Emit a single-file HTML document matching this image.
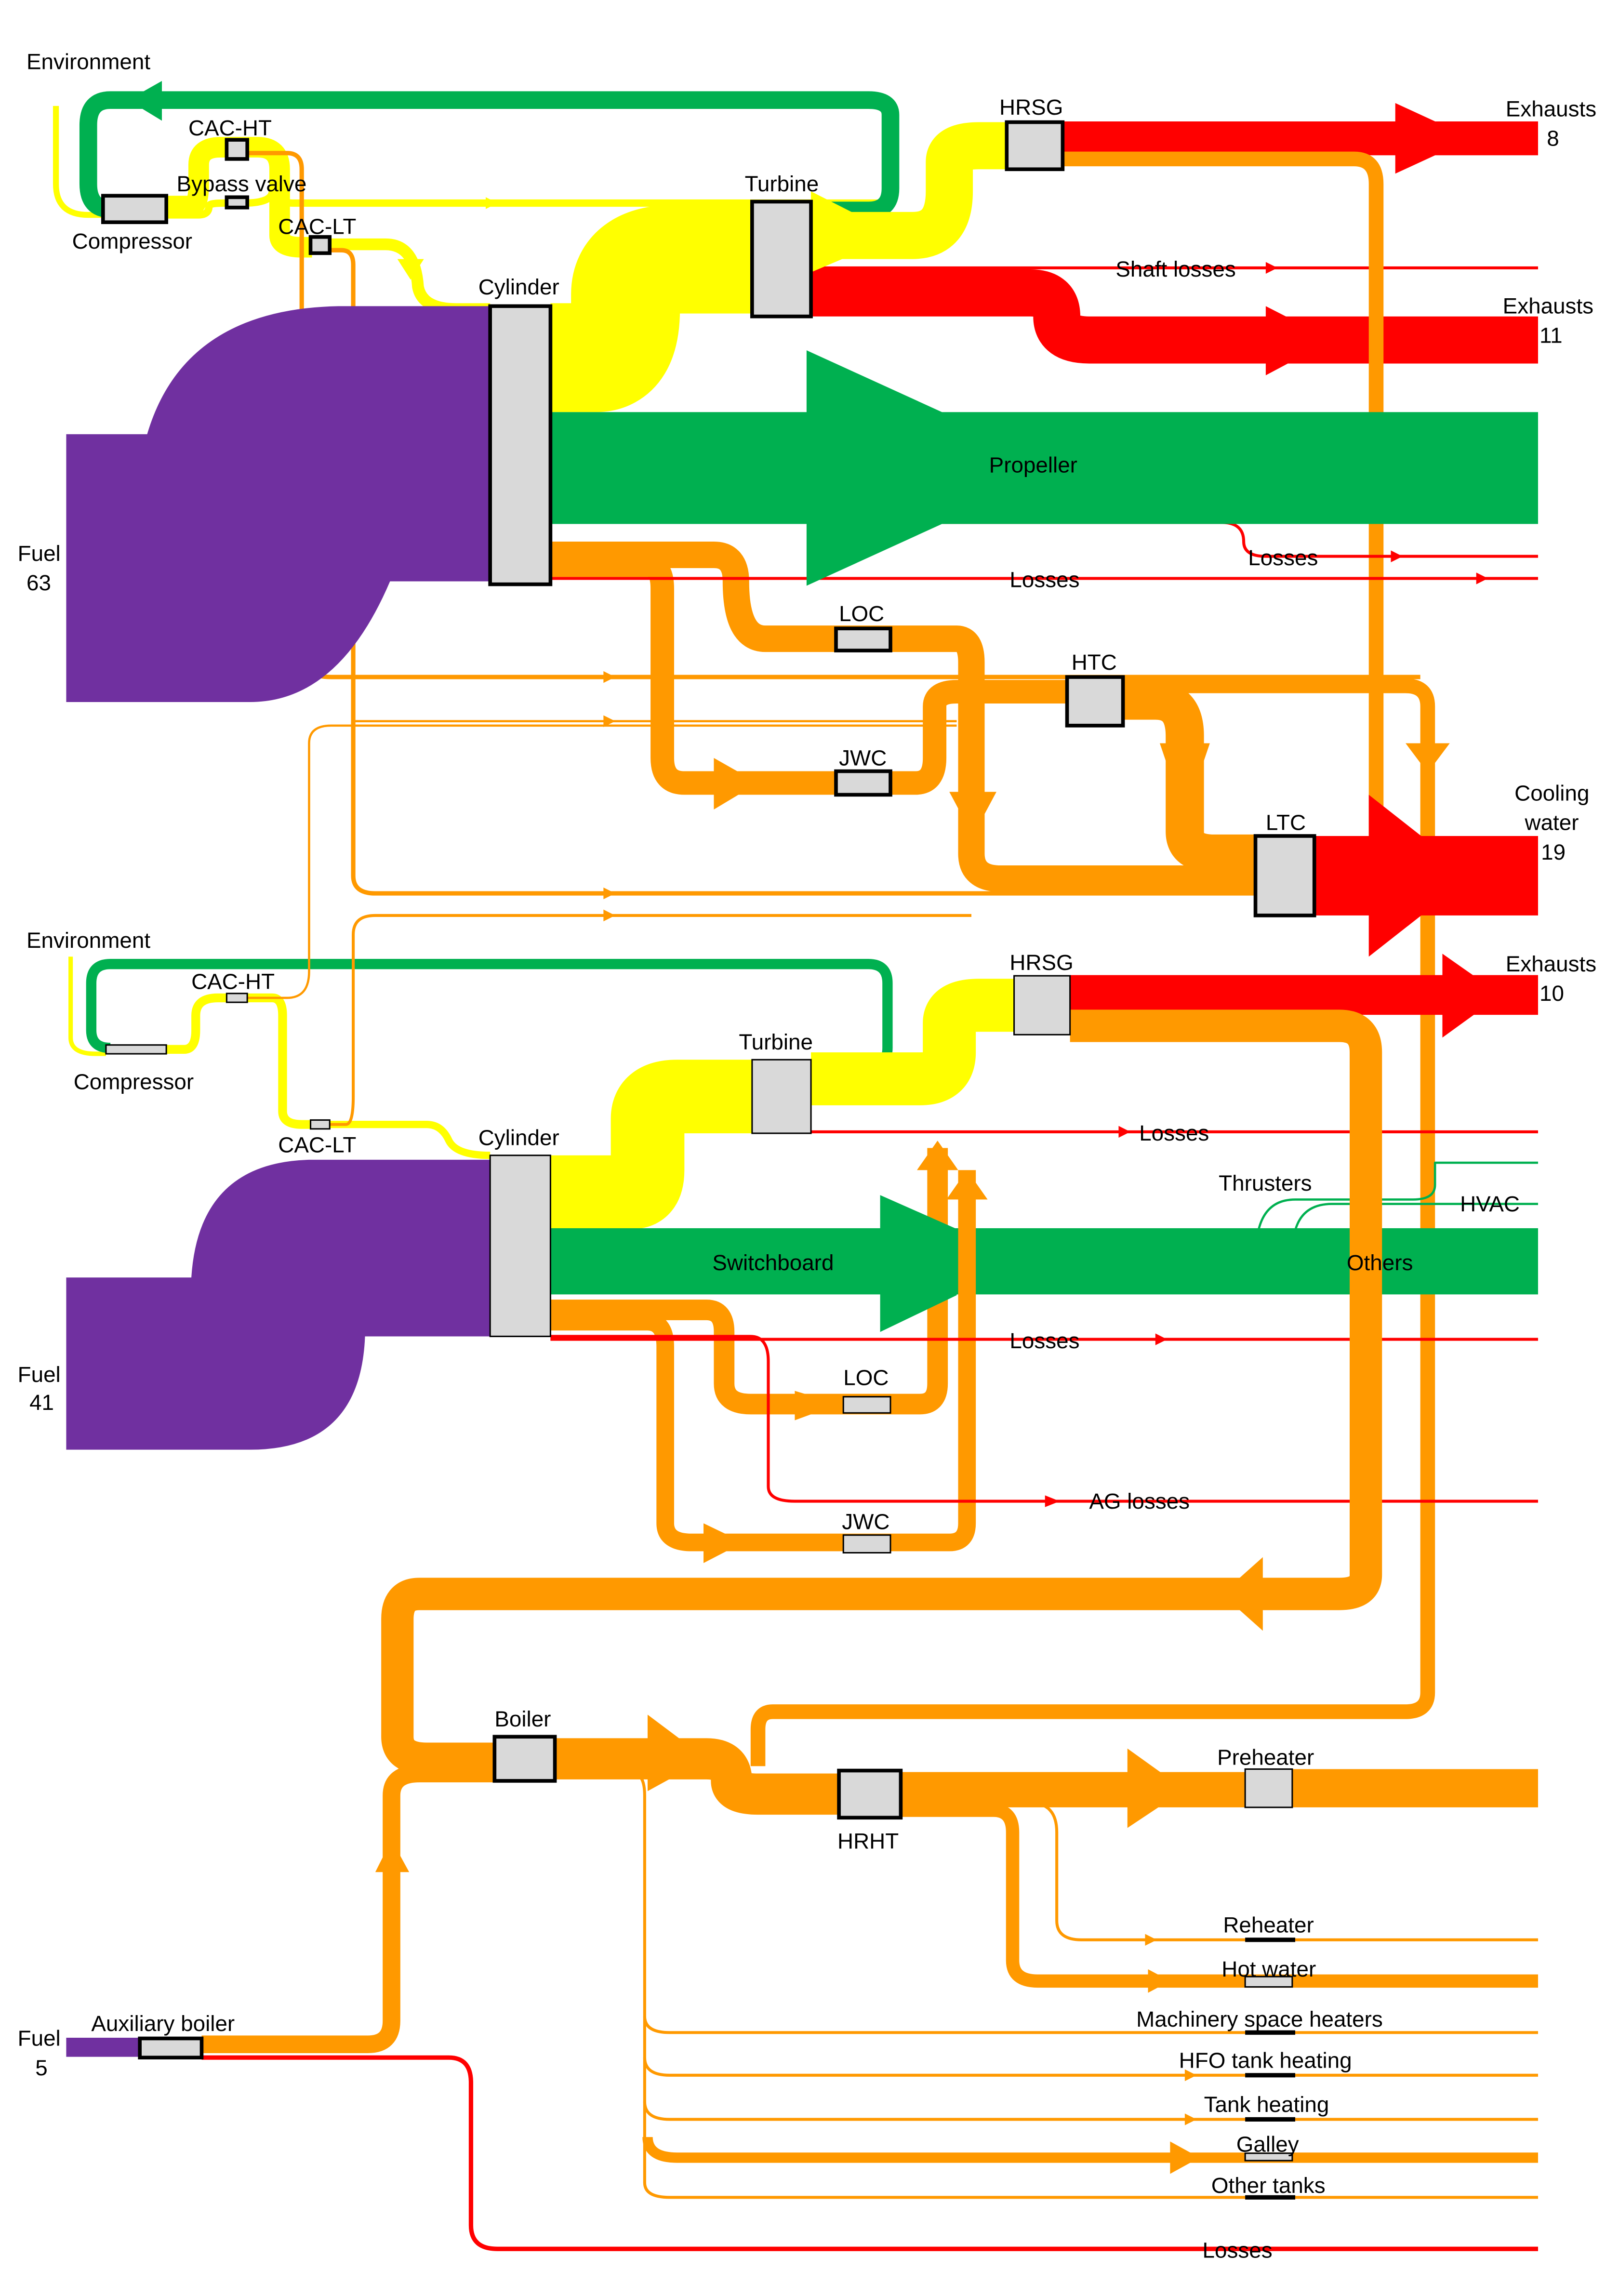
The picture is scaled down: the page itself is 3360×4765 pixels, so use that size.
<!DOCTYPE html>
<html><head><meta charset="utf-8"><style>
html,body{margin:0;padding:0;background:#fff}
svg{display:block}
text{font-family:"Liberation Sans",Arial,sans-serif;font-size:15px;fill:#000}
</style></head><body>
<svg width="3360" height="4765" viewBox="0 0 1100 1560" preserveAspectRatio="none" xmlns="http://www.w3.org/2000/svg">
<rect width="1100" height="1560" fill="#fff"/>
<g fill="none" stroke-linejoin="round">
<path d="M38,72 V125 Q38,146 60,146 H72" stroke="#ff0" stroke-width="4"/>
<path d="M113,140 H130 Q135,140 135,125 V112 Q135,100 150,100 H175 Q190,100 190,115 V160 Q190,168 205,168 H212" stroke="#ff0" stroke-width="14"/>
<path d="M113,146 H135 Q142,146 142,140 Q142,138 152,138 H165 Q185,138 185,130 Q185,138 200,138 H600" stroke="#ff0" stroke-width="5"/>
<path d="M224,166 H262 Q282,166 284,195 Q287,210 310,210 H333" stroke="#ff0" stroke-width="8"/>
<path d="M551,143 H590 Q605,143 605,128 V78 Q605,68 590,68 H75 Q60,68 60,85 V125 Q60,142 75,142 H72" stroke="#00b050" stroke-width="12"/>
<path d="M374,243 H405 Q425,243 425,210 V200 Q425,176 460,176 H511" stroke="#ff0" stroke-width="74"/>
<path d="M551,160 H620 Q645,160 645,130 V110 Q645,99 665,99 H684" stroke="#ff0" stroke-width="32"/>
<path d="M551,199 H700 Q718,199 718,215 Q718,231 740,231 H1045" stroke="#f00" stroke-width="32"/>
<path d="M551,182 H1045" stroke="#f00" stroke-width="2"/>
<path d="M722,94 H1045" stroke="#f00" stroke-width="23"/>
<path d="M168,104 H195 Q205,104 205,115 V445 Q205,460 225,460 H965" stroke="#f90" stroke-width="3"/>
<path d="M224,170 H232 Q240,170 240,180 V595 Q240,607 255,607 H860" stroke="#f90" stroke-width="3"/>
<path d="M240,490 H650" stroke="#f90" stroke-width="1.5"/>
<path d="M374,377 H485 Q500,377 500,395 Q500,434 520,434 H650 Q660,434 660,450 V580 Q660,597 680,597 H860" stroke="#f90" stroke-width="18"/>
<path d="M374,384 H440 Q450,384 450,400 V515 Q450,532 465,532 H622 Q635,532 635,515 V480 Q635,470 650,470 H725" stroke="#f90" stroke-width="16"/>
<path d="M763,476 H785 Q805,476 805,500 V565 Q805,580 825,580 H853" stroke="#f90" stroke-width="26"/>
<path d="M763,466 H955 Q970,466 970,480 V1150 Q970,1163 955,1163 H525 Q515,1163 515,1175 V1200" stroke="#f90" stroke-width="10"/>
<path d="M722,108 H920 Q935,108 935,125 V590" stroke="#f90" stroke-width="10"/>
<path d="M893,595 H1045" stroke="#f00" stroke-width="54"/>
<path d="M48,650 V705 Q48,716 65,716 H72" stroke="#ff0" stroke-width="3"/>
<path d="M113,713 H125 Q133,713 133,700 V690 Q133,678 148,678 H185 Q192,678 192,690 V755 Q192,764 205,764 H211" stroke="#ff0" stroke-width="6"/>
<path d="M224,764 H290 Q300,764 305,775 Q310,785 333,785" stroke="#ff0" stroke-width="5"/>
<path d="M551,725 H590 Q603,725 603,712 V668 Q603,655 590,655 H75 Q62,655 62,668 V700 Q62,712 75,712" stroke="#00b050" stroke-width="7"/>
<path d="M168,678 H195 Q210,678 210,660 V505 Q210,493 225,493 H650" stroke="#f90" stroke-width="1.5"/>
<path d="M224,764 H235 Q240,764 240,745 V635 Q240,622 255,622 H660" stroke="#f90" stroke-width="2"/>
<path d="M374,810 H430 Q440,810 440,795 V760 Q440,745 460,745 H511" stroke="#ff0" stroke-width="50"/>
<path d="M551,733 H625 Q645,733 645,715 V695 Q645,683 665,683 H689" stroke="#ff0" stroke-width="36"/>
<path d="M727,676 H1045" stroke="#f00" stroke-width="27"/>
<path d="M551,769 H1045" stroke="#f00" stroke-width="2"/>
<path d="M374,857 H1045" stroke="#00b050" stroke-width="45"/>
<path d="M855,836 Q860,815 880,815 H960 Q975,815 975,805 V790 H1045" stroke="#00b050" stroke-width="1.5"/>
<path d="M880,836 Q885,818 905,818 H1045" stroke="#00b050" stroke-width="1.5"/>
<path d="M374,890 H480 Q492,890 492,905 V940 Q492,954 510,954 H625 Q637,954 637,940 V780" stroke="#f90" stroke-width="14"/>
<path d="M374,898 H440 Q452,898 452,915 V1035 Q452,1048 470,1048 H645 Q657,1048 657,1035 V795" stroke="#f90" stroke-width="12"/>
<path d="M374,908 H510 Q522,908 522,925 V1010 Q522,1020 540,1020 H1045" stroke="#f00" stroke-width="2"/>
<path d="M374,910 H1045" stroke="#f00" stroke-width="2"/>
<path d="M374,393 H1045" stroke="#f00" stroke-width="2"/>
<path d="M640,355 H830 Q845,355 845,368 Q845,378 860,378 H1045" stroke="#f00" stroke-width="2"/>
<path d="M727,697 H910 Q928,697 928,715 V1070 Q928,1083 910,1083 H285 Q270,1083 270,1100 V1180 Q270,1195 290,1195 H336" stroke="#f90" stroke-width="22"/>
<path d="M377,1195 H480 Q497,1195 497,1210 Q497,1219 515,1219 H570" stroke="#f90" stroke-width="28"/>
<path d="M612,1216 H846" stroke="#f90" stroke-width="24"/>
<path d="M878,1215 H1045" stroke="#f90" stroke-width="26"/>
<path d="M45,1391 H95" stroke="#7030a0" stroke-width="13"/>
<path d="M137,1389 H250 Q266,1389 266,1373 V1220 Q266,1205 285,1205 H336" stroke="#f90" stroke-width="12"/>
<path d="M137,1398 H305 Q320,1398 320,1415 V1512 Q320,1528 338,1528 H1045" stroke="#f00" stroke-width="3"/>
<path d="M430,1205 Q438,1205 438,1220 V1483 Q438,1493 455,1493 H1045" stroke="#f90" stroke-width="2"/>
<path d="M438,1370 Q438,1381 455,1381 H1045" stroke="#f90" stroke-width="2"/>
<path d="M438,1398 Q438,1410 455,1410 H1045" stroke="#f90" stroke-width="2"/>
<path d="M438,1428 Q438,1440 455,1440 H1045" stroke="#f90" stroke-width="2"/>
<path d="M440,1452 Q440,1466 460,1466 H1045" stroke="#f90" stroke-width="7"/>
<path d="M700,1225 Q718,1225 718,1245 V1305 Q718,1318 735,1318 H1045" stroke="#f90" stroke-width="2"/>
<path d="M612,1230 H675 Q688,1230 688,1245 V1332 Q688,1346 705,1346 H1045" stroke="#f90" stroke-width="9"/>
</g>
<path d="M45,295 H100 Q125,210 230,208 H333 V395 H265 Q230,477 170,477 H45 Z" fill="#7030a0"/>
<path d="M45,868 H130 Q135,790 210,788 H333 V908 H248 Q245,985 170,985 H45 Z" fill="#7030a0"/>
<rect x="374" y="280" width="671" height="76" fill="#00b050"/>
<polygon points="548,238 640,280 640,356 548,398" fill="#00b050"/>
<polygon points="598,812 650,835 650,880 598,905" fill="#00b050"/>
<polygon points="110,55 110,82 87,68" fill="#00b050"/>
<polygon points="948,70 948,118 1000,94" fill="#f00"/>
<polygon points="860,208 860,255 905,231" fill="#f00"/>
<polygon points="930,540 930,650 1000,595" fill="#f00"/>
<polygon points="980,648 980,705 1020,676" fill="#f00"/>
<polygon points="551,130 551,185 610,160" fill="#ff0"/>
<polygon points="788,505 822,505 805,555" fill="#f90"/>
<polygon points="955,505 985,505 970,525" fill="#f90"/>
<polygon points="485,515 485,550 515,532" fill="#f90"/>
<polygon points="645,538 677,538 661,568" fill="#f90"/>
<polygon points="540,945 540,965 570,954" fill="#f90"/>
<polygon points="478,1035 478,1062 505,1048" fill="#f90"/>
<polygon points="623,795 651,795 637,775" fill="#f90"/>
<polygon points="643,815 671,815 657,795" fill="#f90"/>
<polygon points="858,1058 858,1108 830,1083" fill="#f90"/>
<polygon points="440,1165 440,1217 480,1195" fill="#f90"/>
<polygon points="766,1188 766,1242 805,1216" fill="#f90"/>
<polygon points="255,1272 278,1272 266,1250" fill="#f90"/>
<polygon points="270,176 288,176 279,190" fill="#ff0"/>
<polygon points="795,1455 795,1477 815,1466" fill="#f90"/>
<polygon points="780,1338 780,1354 795,1346" fill="#f90"/>
<g fill="#f90"><polygon points="410,456 410,464 418,460"/><polygon points="410,486 410,494 418,490"/><polygon points="410,603 410,611 418,607"/><polygon points="410,618 410,626 418,622"/><polygon points="778,1314 778,1322 786,1318"/><polygon points="805,1406 805,1414 813,1410"/><polygon points="805,1436 805,1444 813,1440"/></g>
<g fill="#f00"><polygon points="860,178 860,186 868,182"/><polygon points="945,374 945,382 953,378"/><polygon points="1003,389 1003,397 1011,393"/><polygon points="760,765 760,773 768,769"/><polygon points="785,906 785,914 793,910"/><polygon points="710,1016 710,1024 720,1020"/></g>
<polygon points="330,134 330,142 338,138" fill="#ff0"/>
<g fill="#d9d9d9" stroke="#000" stroke-width="2.5">
<rect x="333" y="208" width="41" height="189"/>
<rect x="511" y="137" width="40" height="78"/>
<rect x="684" y="83" width="38" height="32"/>
<rect x="70" y="133" width="43" height="18"/>
<rect x="154" y="95" width="14" height="13"/>
<rect x="154" y="134" width="14" height="7"/>
<rect x="211" y="161" width="13" height="11"/>
<rect x="568" y="427" width="37" height="15"/>
<rect x="568" y="524" width="37" height="16"/>
<rect x="725" y="460" width="38" height="33"/>
<rect x="853" y="568" width="40" height="54"/>
<rect x="333" y="785" width="41" height="123" stroke-width="1"/>
<rect x="511" y="720" width="40" height="50" stroke-width="1"/>
<rect x="689" y="663" width="38" height="40" stroke-width="1"/>
<rect x="72" y="710" width="41" height="6" stroke-width="1"/>
<rect x="154" y="675" width="14" height="6" stroke-width="1"/>
<rect x="211" y="761" width="13" height="6" stroke-width="1"/>
<rect x="573" y="949" width="32" height="11" stroke-width="1"/>
<rect x="573" y="1043" width="32" height="12" stroke-width="1"/>
<rect x="336" y="1180" width="41" height="30"/>
<rect x="570" y="1203" width="42" height="32"/>
<rect x="846" y="1202" width="32" height="26" stroke-width="1"/>
<rect x="95" y="1385" width="42" height="13"/>
<rect x="846" y="1343" width="32" height="7" stroke-width="1"/>
<rect x="846" y="1463" width="32" height="5" stroke-width="1"/>
</g>
<g stroke="#000" stroke-width="3"><line x1="846" y1="1318" x2="880" y2="1318"/><line x1="846" y1="1381" x2="880" y2="1381"/><line x1="846" y1="1410" x2="880" y2="1410"/><line x1="846" y1="1440" x2="880" y2="1440"/><line x1="846" y1="1493" x2="880" y2="1493"/></g>
<text x="18" y="47">Environment</text>
<text x="128" y="92">CAC-HT</text>
<text x="120" y="130">Bypass valve</text>
<text x="49" y="169">Compressor</text>
<text x="189" y="159">CAC-LT</text>
<text x="325" y="200">Cylinder</text>
<text x="506" y="130">Turbine</text>
<text x="679" y="78">HRSG</text>
<text x="1023" y="79">Exhausts</text>
<text x="1051" y="99">8</text>
<text x="758" y="188">Shaft losses</text>
<text x="1021" y="213">Exhausts</text>
<text x="1046" y="233">11</text>
<text x="672" y="321">Propeller</text>
<text x="848" y="384">Losses</text>
<text x="686" y="399">Losses</text>
<text x="12" y="381">Fuel</text>
<text x="18" y="401">63</text>
<text x="570" y="422">LOC</text>
<text x="728" y="455">HTC</text>
<text x="570" y="520">JWC</text>
<text x="1029" y="544">Cooling</text>
<text x="1036" y="564">water</text>
<text x="1047" y="584">19</text>
<text x="860" y="564">LTC</text>
<text x="18" y="644">Environment</text>
<text x="130" y="672">CAC-HT</text>
<text x="686" y="659">HRSG</text>
<text x="1023" y="660">Exhausts</text>
<text x="1046" y="680">10</text>
<text x="50" y="740">Compressor</text>
<text x="502" y="713">Turbine</text>
<text x="189" y="783">CAC-LT</text>
<text x="325" y="778">Cylinder</text>
<text x="774" y="775">Losses</text>
<text x="828" y="809">Thrusters</text>
<text x="992" y="823">HVAC</text>
<text x="484" y="863">Switchboard</text>
<text x="915" y="863">Others</text>
<text x="686" y="916">Losses</text>
<text x="12" y="939">Fuel</text>
<text x="20" y="958">41</text>
<text x="573" y="941">LOC</text>
<text x="740" y="1025">AG losses</text>
<text x="572" y="1039">JWC</text>
<text x="336" y="1173">Boiler</text>
<text x="827" y="1199">Preheater</text>
<text x="569" y="1256">HRHT</text>
<text x="831" y="1313">Reheater</text>
<text x="830" y="1343">Hot water</text>
<text x="772" y="1377">Machinery space heaters</text>
<text x="801" y="1405">HFO tank heating</text>
<text x="818" y="1435">Tank heating</text>
<text x="840" y="1462">Galley</text>
<text x="823" y="1490">Other tanks</text>
<text x="62" y="1380">Auxiliary boiler</text>
<text x="12" y="1390">Fuel</text>
<text x="24" y="1410">5</text>
<text x="817" y="1534">Losses</text>
</svg>
</body></html>
